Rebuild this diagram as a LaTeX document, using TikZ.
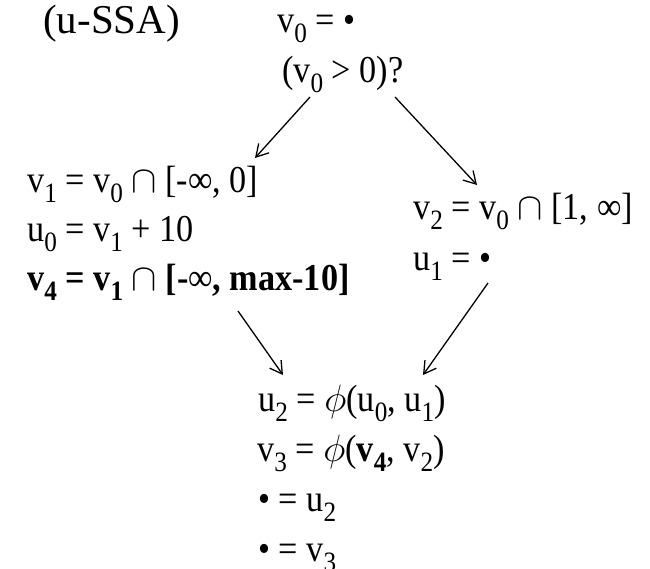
\RequirePackage{fix-cm}
\documentclass[tikz,border=0pt]{standalone}
\usepackage{fontspec}
\setmainfont{Liberation Serif}[FakeStretch=0.9]
\newfontfamily\ttlfont{Liberation Serif}
\usetikzlibrary{arrows.meta,calc}
\newcommand\sbs[1]{\raisebox{-10pt}{\fontsize{28}{28}\selectfont #1}}
\newcommand\bsbs[1]{\raisebox{-10pt}{\fontsize{28}{28}\selectfont\bfseries #1}}
\newcommand\capop{{\mdseries$\cap$}}
\newcommand\infy{{\mdseries ∞}}
\tikzset{
  txt/.style={anchor=base west, inner sep=0pt, font=\fontsize{38}{42}\selectfont},
  ttl/.style={anchor=base west, inner sep=0pt, font=\ttlfont\fontsize{41}{44}\selectfont},
  arr/.style={-{Straight Barb[length=12pt,width=14pt]}, line width=1.3pt}
}
\begin{document}
\begin{tikzpicture}[x=1pt,y=-1pt]
\useasboundingbox (0,0) rectangle (650,568);
\node[ttl] (title) at (43,33) {(u-SSA)};
\node[txt] (v0) at (277,32) {v\sbs{0} = •};
\node[txt] (cond) at (282,82) {(v\sbs{0} > 0)?};
\node[txt] (l1) at (27,192) {v\sbs{1} = v\sbs{0} \capop{} [-∞, 0]};
\node[txt] (l2) at (27,241) {u\sbs{0} = v\sbs{1} + 10};
\node[txt] (l3) at (27,290) {\bfseries v\bsbs{4} = v\bsbs{1} \capop{} [-\infy, max-10]};
\node[txt] (r1) at (413,219) {v\sbs{2} = v\sbs{0} \capop{} [1, ∞]};
\node[txt] (r2) at (413,270) {u\sbs{1} = •};
\node[txt] (b1) at (258,411) {u\sbs{2} = $\phi$(u\sbs{0}, u\sbs{1})};
\node[txt] (b2) at (257,461) {v\sbs{3} = $\phi$(\textbf{v}\bsbs{4}, v\sbs{2})};
\node[txt] (b3) at (258,511) {• = u\sbs{2}};
\node[txt] (b4) at (258,561) {• = v\sbs{3}};
\draw[arr] ($(cond.base west)+(28,15)$) -- ($(l1.base west)+(228,-34)$);
\draw[arr] ($(cond.base west)+(113,15)$) -- ($(r1.base west)+(64,-34)$);
\draw[arr] ($(l3.base west)+(211,21)$) -- ($(b1.base west)+(25,-36)$);
\draw[arr] ($(r2.base west)+(75,13)$) -- ($(b1.base west)+(165,-36)$);
\end{tikzpicture}
\end{document}
